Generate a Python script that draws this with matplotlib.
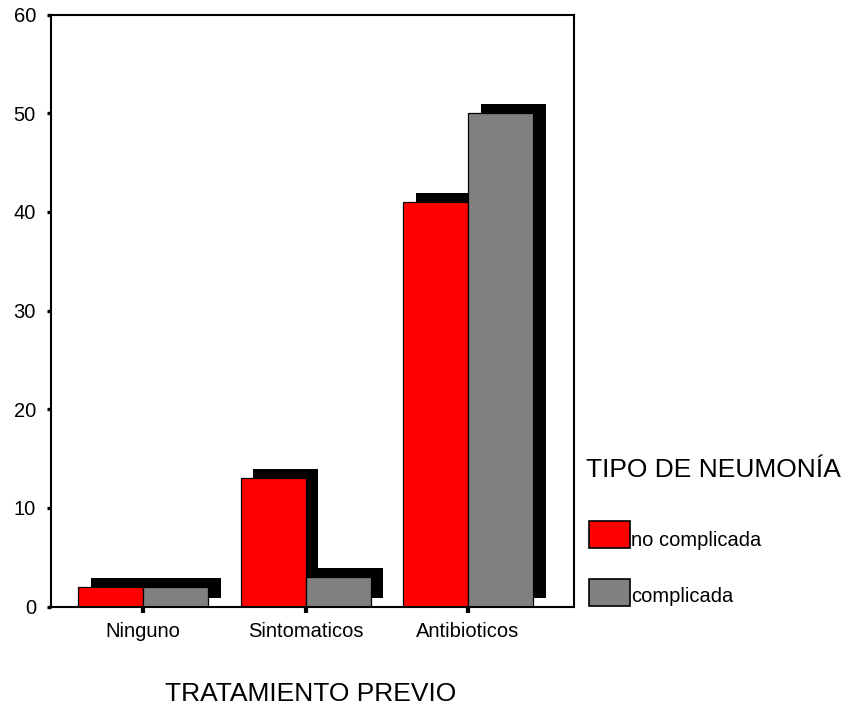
import matplotlib
matplotlib.use("Agg")
import matplotlib.pyplot as plt
import matplotlib.transforms as mtransforms
from matplotlib.patches import Rectangle
import numpy as np

plt.rcParams['font.family'] = ['Liberation Sans', 'DejaVu Sans']

# Data
categories = ["Ninguno", "Sintomaticos", "Antibioticos"]
series_names = ["no complicada", "complicada"]
no_complicada = [2, 13, 41]
complicada = [2, 3, 50]
series_values = [no_complicada, complicada]
series_colors = ["#ff0000", "#808080"]
y_ticks = [0, 10, 20, 30, 40, 50, 60]

W, H = 849, 711
fig = plt.figure(figsize=(W / 100, H / 100), dpi=100)


def fx(px):
    return px / W


def fy(py):
    return 1 - py / H


ax = fig.add_axes([fx(50.7), fy(606.5), fx(574) - fx(50.7), fy(14.5) - fy(606.5)])

x = np.arange(len(categories))
bar_w = 0.4
offsets = [-bar_w / 2, bar_w / 2]

# drop shadow: same bars shifted right and up in display space
shadow_tr = ax.transData + mtransforms.ScaledTranslation(12.5 / 100, 9 / 100, fig.dpi_scale_trans)

for vals, off in zip(series_values, offsets):
    ax.bar(x + off, vals, width=bar_w, color="black", edgecolor="none",
           transform=shadow_tr, zorder=1)

for vals, off, col in zip(series_values, offsets, series_colors):
    ax.bar(x + off, vals, width=bar_w, color=col, edgecolor="black",
           linewidth=0.9, zorder=2)

ax.set_xlim(-0.568, 2.652)
ax.set_ylim(0, 60)
ax.set_yticks(y_ticks)
ax.set_yticklabels([str(t) for t in y_ticks], fontsize=14.5)
ax.set_xticks(x)
ax.set_xticklabels(categories, fontsize=14.5)
ax.tick_params(axis='y', direction='out', length=3.2, width=2.4, pad=7.4)
ax.tick_params(axis='x', direction='out', length=4, width=3, pad=7.5)
for sp in ax.spines.values():
    sp.set_linewidth(1.5)

# axis title below the category labels
fig.text(fx(311), fy(694), "TRATAMIENTO PREVIO", fontsize=19, ha='center', va='center')

# legend
fig.text(fx(586), fy(470), "TIPO DE NEUMONÍA", fontsize=19, ha='left', va='center')
patch_tops = [521, 579]
text_baselines = [546.5, 602]
for name, col, top, base in zip(series_names, series_colors, patch_tops, text_baselines):
    fig.add_artist(Rectangle((fx(589), fy(top + 27)), fx(630) - fx(589), fy(top) - fy(top + 27),
                             transform=fig.transFigure, facecolor=col,
                             edgecolor="black", linewidth=1.2))
    fig.text(fx(631), fy(base), name, fontsize=14.5, ha='left', va='baseline')

fig.savefig("out.png", dpi=100)
